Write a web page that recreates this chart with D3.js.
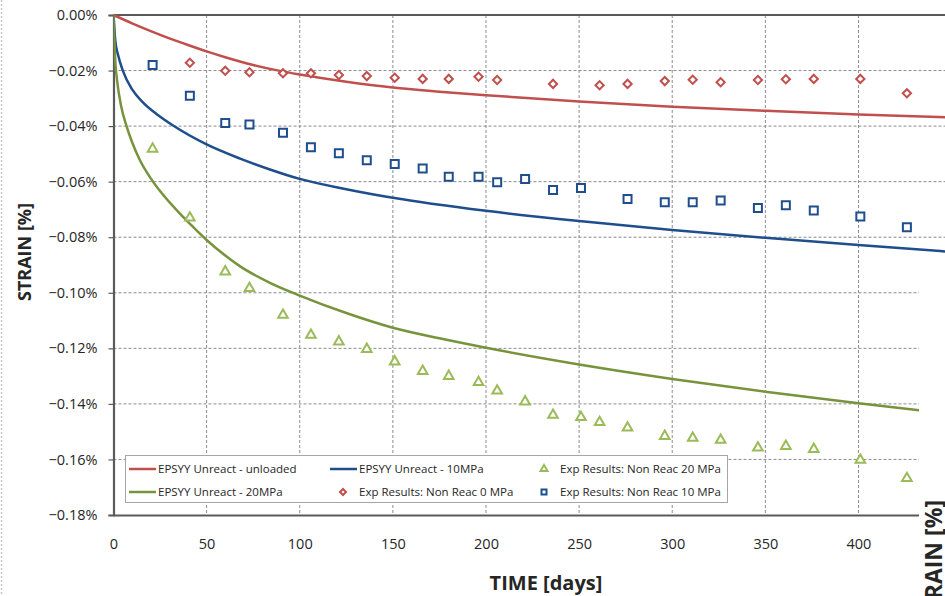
<!DOCTYPE html>
<html>
<head>
<meta charset="utf-8">
<script src="https://cdn.jsdelivr.net/npm/d3@7"></script>
<style>
  html, body { margin: 0; padding: 0; background: #fff; }
  svg { display: block; }
  text { font-family: "Open Sans", "Noto Sans", sans-serif; fill: #262626; }
</style>
</head>
<body>
<svg id="chart" width="945" height="596"></svg>
<script>
// ---- Model curves (strain in %, time in days) ----
const modelDaysUnloaded = [0, 10, 20, 30, 40, 50, 60, 75, 90, 100, 125, 150, 175, 200, 250, 300, 350, 400, 450];
const modelUnloaded = [0, -0.0030, -0.0058, -0.0084, -0.0108, -0.0131, -0.0152, -0.0180, -0.0202, -0.0214, -0.0240, -0.0261, -0.0276, -0.0289, -0.0311, -0.0330, -0.0345, -0.0358, -0.0369];

const modelDays10 = [0, 1, 2.5, 5, 10, 15, 24, 32, 50, 68, 84, 100, 125, 150, 200, 250, 300, 350, 400, 450];
const model10 = [0, -0.0095, -0.0145, -0.0200, -0.0268, -0.0309, -0.0361, -0.0398, -0.0466, -0.0517, -0.0556, -0.0590, -0.0627, -0.0658, -0.0705, -0.0742, -0.0774, -0.0802, -0.0828, -0.0853];

const modelDays20 = [0, 1, 2, 4, 7, 10, 14, 20, 25, 37.5, 45, 50, 60, 68, 84, 100, 125, 150, 175, 200, 250, 300, 350, 400, 450];
const model20 = [0, -0.017, -0.024, -0.0325, -0.040, -0.0458, -0.0520, -0.0588, -0.0634, -0.0728, -0.0778, -0.0810, -0.0866, -0.0905, -0.0964, -0.1010, -0.1073, -0.1126, -0.1164, -0.1198, -0.1258, -0.1310, -0.1356, -0.1398, -0.1436];

// ---- Experimental results ----
const expDays0 = [41, 60, 73, 91, 106, 121, 136, 151, 166, 180, 196, 206, 236, 261, 276, 296, 311, 326, 346, 361, 376, 401, 426];
const exp0 = [-0.0172, -0.0201, -0.0206, -0.0210, -0.0210, -0.0216, -0.0220, -0.0226, -0.0230, -0.0230, -0.0222, -0.0234, -0.0248, -0.0253, -0.0248, -0.0238, -0.0233, -0.0242, -0.0234, -0.0231, -0.0230, -0.0230, -0.0282];

const expDays10 = [21, 41, 60, 73, 91, 106, 121, 136, 151, 166, 180, 196, 206, 221, 236, 251, 276, 296, 311, 326, 346, 361, 376, 401, 426];
const exp10 = [-0.0180, -0.0291, -0.0389, -0.0394, -0.0424, -0.0476, -0.0498, -0.0523, -0.0536, -0.0553, -0.0582, -0.0582, -0.0602, -0.0590, -0.0630, -0.0623, -0.0662, -0.0674, -0.0674, -0.0668, -0.0695, -0.0685, -0.0704, -0.0725, -0.0764];

const expDays20 = [21, 41, 60, 73, 91, 106, 121, 136, 151, 166, 180, 196, 206, 221, 236, 251, 261, 276, 296, 311, 326, 346, 361, 376, 401, 426];
const exp20 = [-0.0482, -0.0730, -0.0924, -0.0984, -0.1080, -0.1152, -0.1176, -0.1203, -0.1248, -0.1282, -0.1300, -0.1322, -0.1353, -0.1392, -0.1440, -0.1448, -0.1466, -0.1486, -0.1516, -0.1523, -0.1530, -0.1558, -0.1552, -0.1563, -0.1602, -0.1668];

// ---- Axis ticks ----
const xTicks = [0, 50, 100, 150, 200, 250, 300, 350, 400];
const yTicks = [0, -0.02, -0.04, -0.06, -0.08, -0.10, -0.12, -0.14, -0.16, -0.18];

const legendLabels = [
  "EPSYY Unreact - unloaded", "EPSYY Unreact - 10MPa", "Exp Results: Non Reac 20 MPa",
  "EPSYY Unreact - 20MPa", "Exp Results: Non Reac 0 MPa", "Exp Results: Non Reac 10 MPa"
];

const RED = "#C0504D", BLUE = "#1F4E8C", GREEN = "#77933C", GREEN_MK = "#9BBB59";

const svg = d3.select("#chart");
const W = 945, H = 596;
const plot = { left: 113.5, top: 15, bottom: 515, right: 951.6 };

const x = d3.scaleLinear().domain([0, 450]).range([plot.left, plot.right]);
const y = d3.scaleLinear().domain([0, -0.18]).range([plot.top, plot.bottom]);

// page border (dotted, left edge)
svg.append("line").attr("x1", 1.5).attr("x2", 1.5).attr("y1", 0).attr("y2", H)
  .attr("stroke", "#c8c8c8").attr("stroke-width", 1.5).attr("stroke-dasharray", "2,2");

svg.append("defs").append("clipPath").attr("id", "plotClip")
  .append("rect").attr("x", plot.left).attr("y", plot.top - 2)
  .attr("width", plot.right - plot.left).attr("height", plot.bottom - plot.top + 4);

// gridlines
const grid = svg.append("g").attr("stroke", "#8c8c8c").attr("stroke-width", 1).attr("stroke-dasharray", "3,2");
grid.selectAll("line.h").data(yTicks.filter(v => v < 0 && v > -0.18)).join("line")
  .attr("x1", plot.left).attr("x2", W).attr("y1", d => y(d)).attr("y2", d => y(d));
grid.selectAll("line.v").data(xTicks.filter(v => v > 0)).join("line")
  .attr("x1", d => x(d)).attr("x2", d => x(d)).attr("y1", plot.top).attr("y2", plot.bottom);

// frame: top border
svg.append("line").attr("x1", plot.left).attr("x2", W).attr("y1", plot.top).attr("y2", plot.top)
  .attr("stroke", "#5a5a5a").attr("stroke-width", 2.2);

// y axis
const yAxis = d3.axisLeft(y).tickValues(yTicks).tickSize(5).tickPadding(11)
  .tickFormat(d => d3.format(".2f")(d) + "%");
const gy = svg.append("g").attr("transform", `translate(${plot.left},0)`).call(yAxis);
gy.select(".domain").attr("stroke", "#5a5a5a").attr("stroke-width", 2.2);
gy.selectAll(".tick line").attr("stroke", "#5a5a5a").attr("stroke-width", 1.2);
gy.selectAll(".tick text").style("font-size", "14.5px").attr("fill", "#262626")
  .attr("font-family", "Open Sans, sans-serif");

// x axis
const xAxis = d3.axisBottom(x).tickValues(xTicks).tickSize(0).tickPadding(24).tickFormat(d3.format("d"));
const gx = svg.append("g").attr("transform", `translate(0,${plot.bottom})`).call(xAxis);
gx.select(".domain").attr("stroke", "#5a5a5a").attr("stroke-width", 2.2);
gx.selectAll(".tick text").style("font-size", "14.5px").attr("fill", "#262626")
  .attr("font-family", "Open Sans, sans-serif");

// axis titles
svg.append("text").attr("transform", `translate(31,252) rotate(-90)`)
  .attr("text-anchor", "middle").style("font-size", "18px").style("font-weight", "bold")
  .text("STRAIN [%]");
svg.append("text").attr("x", 546).attr("y", 590)
  .attr("text-anchor", "middle").style("font-size", "20px").style("font-weight", "bold")
  .text("TIME [days]");

// model curves
const line = d3.line().x(d => x(d[0])).y(d => y(d[1])).curve(d3.curveMonotoneX);
const curves = svg.append("g").attr("clip-path", "url(#plotClip)").attr("fill", "none").attr("stroke-width", 2.5);
const modelSeries = [
  { days: modelDaysUnloaded, vals: modelUnloaded, color: RED },
  { days: modelDays10, vals: model10, color: BLUE },
  { days: modelDays20, vals: model20, color: GREEN }
];
modelSeries.forEach(s => {
  curves.append("path").datum(d3.zip(s.days, s.vals)).attr("d", line).attr("stroke", s.color);
});

// experimental markers
const sq = d3.symbol().type(d3.symbolSquare).size(64)();
const dia = d3.symbol().type(d3.symbolSquare).size(34)();
const tri = d3.symbol().type(d3.symbolTriangle).size(40)();
const marks = svg.append("g").attr("fill", "#fff").attr("stroke-width", 2);
function markers(days, vals, path, color, rot) {
  marks.append("g").selectAll("path").data(d3.zip(days, vals)).join("path")
    .attr("d", path).attr("stroke", color)
    .attr("transform", d => `translate(${x(d[0])},${y(d[1])}) rotate(${rot})`);
}
markers(expDays0, exp0, dia, RED, 45);
markers(expDays10, exp10, sq, BLUE, 0);
markers(expDays20, exp20, tri, GREEN_MK, 0);

// legend
const lg = svg.append("g");
lg.append("rect").attr("x", 125.5).attr("y", 455.5).attr("width", 602).attr("height", 47)
  .attr("fill", "#fff").attr("stroke", "#a6a6a6").attr("stroke-width", 1);
const rows = [469, 492];
const lgText = (tx, ty, t) => lg.append("text").attr("x", tx).attr("y", ty + 4)
  .style("font-size", "11.5px").attr("fill", "#1a1a1a").text(t);
const lgLine = (ty, x1, color) => lg.append("line").attr("x1", x1).attr("x2", x1 + 27)
  .attr("y1", ty).attr("y2", ty).attr("stroke", color).attr("stroke-width", 2.5);
lgLine(rows[0], 129, RED); lgText(158, rows[0], legendLabels[0]);
lgLine(rows[0], 330, BLUE); lgText(359, rows[0], legendLabels[1]);
lg.append("path").attr("d", d3.symbol().type(d3.symbolTriangle).size(22)())
  .attr("transform", `translate(544,${rows[0]})`).attr("fill", "#fff").attr("stroke", GREEN_MK).attr("stroke-width", 2);
lgText(560, rows[0], legendLabels[2]);
lgLine(rows[1], 129, GREEN); lgText(158, rows[1], legendLabels[3]);
lg.append("path").attr("d", d3.symbol().type(d3.symbolSquare).size(18)())
  .attr("transform", `translate(343,${rows[1]}) rotate(45)`).attr("fill", "#fff").attr("stroke", RED).attr("stroke-width", 2);
lgText(359, rows[1], legendLabels[4]);
lg.append("path").attr("d", d3.symbol().type(d3.symbolSquare).size(25)())
  .attr("transform", `translate(544,${rows[1]})`).attr("fill", "#fff").attr("stroke", BLUE).attr("stroke-width", 2);
lgText(560, rows[1], legendLabels[5]);

// neighbouring panel overlapping the lower-right corner
svg.append("rect").attr("x", 919).attr("y", 258).attr("width", W - 919).attr("height", H - 258).attr("fill", "#fff");
svg.append("text").attr("transform", `translate(942,500) rotate(-90)`)
  .attr("text-anchor", "end").style("font-size", "23px").style("font-weight", "bold")
  .text("STRAIN [%]");
</script>
</body>
</html>
